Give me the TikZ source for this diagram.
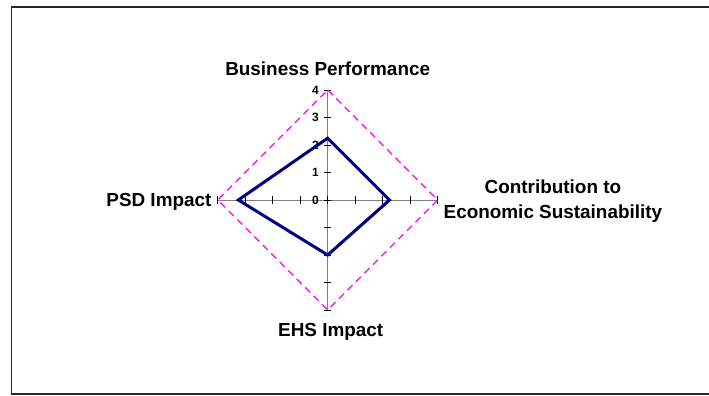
\documentclass[tikz,border=0pt]{standalone}
\usepackage{fontspec}
\setmainfont{Liberation Sans}
\definecolor{navy}{RGB}{0,0,128}
\definecolor{axisgray}{RGB}{128,128,128}
\definecolor{pink}{RGB}{255,0,255}

\begin{document}
\begin{tikzpicture}[x=27.5pt,y=27.5pt,
  lbl/.style={font=\fontsize{18.9}{25}\selectfont\bfseries, inner sep=0pt},
  num/.style={font=\fontsize{12}{12}\selectfont\bfseries, inner sep=0pt}]

\useasboundingbox (-11.916,-7.127) rectangle (13.866,7.273);

% frame
\draw[line width=1.3pt, black!85] (14,7.02) -- (-11.5,7.02) -- (-11.5,-7.05) -- (14,-7.05);

% axes
\draw[axisgray, line width=1pt] (-4,0) -- (4,0);
\draw[axisgray, line width=1pt] (0,-4) -- (0,4);
\foreach \i in {-4,...,4} {
  \draw[line width=0.9pt] (-0.13,\i) -- (0.13,\i);
  \draw[line width=0.9pt] (\i,-0.13) -- (\i,0.13);
}
\foreach \i in {0,...,4}
  \node[num, anchor=east] at (-0.32,\i) (t\i) {\i};

% outline at 4
\draw[pink, line width=1.2pt, dash pattern=on 7pt off 5pt] (0,4) -- (4,0) -- (0,-4) -- (-4,0) -- cycle;

% scores
\draw[navy, line width=3pt] (0,2.25) -- (2.25,0) -- (0,-2) -- (-3.25,0) -- cycle;

\node[lbl, anchor=base] at (0,4.51) (bp) {Business Performance};
\node[lbl, anchor=base east] at (-4.22,-0.22) (psd) {PSD Impact};
\node[lbl, align=center] at (8.19,-0.05) (ces) {Contribution to\\Economic Sustainability};
\node[lbl, anchor=base] at (0.11,-4.95) (ehs) {EHS Impact};

\end{tikzpicture}
\end{document}
